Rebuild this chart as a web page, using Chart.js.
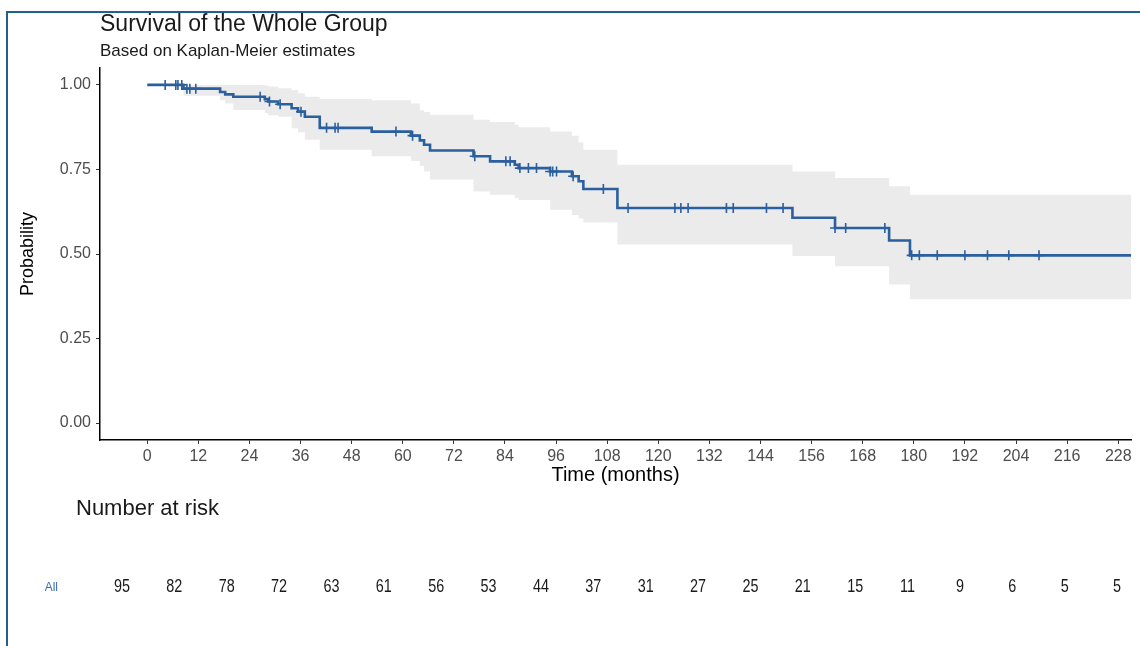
<!DOCTYPE html>
<html>
<head>
<meta charset="utf-8">
<script src="https://cdn.jsdelivr.net/npm/chart.js@4.4.1/dist/chart.umd.min.js"></script>
<style>
  html, body { margin: 0; padding: 0; background: #fff; }
  #wrap { position: relative; width: 1140px; height: 646px; overflow: hidden; }
  #km { position: absolute; left: 0; top: 0; }
  #risk { position: absolute; left: 0; top: 495px; }
  #frame { position: absolute; left: 6px; top: 11px; right: -10px; bottom: -10px;
           border-left: 2px solid #22618f; border-top: 2px solid #22618f; pointer-events: none; }
</style>
</head>
<body>
<div id="wrap">
  <canvas id="km" width="1140" height="495"></canvas>
  <canvas id="risk" width="1140" height="151"></canvas>
  <div id="frame"></div>
</div>
<script>
// Kaplan-Meier step curve (time in months, survival probability)
const kmTime = [0, 8.5, 17.1, 18.3, 20.2, 27.6, 28.4, 30.7, 33.9, 35.4, 37.0, 40.5, 52.7, 61.9, 64.0, 65.0, 66.4,
                76.6, 80.5, 86.3, 87.2, 94.6, 99.7, 101.3, 102.4, 110.4, 151.5, 161.5, 174.2, 179.1, 236];
const kmSurv = [1.0, 0.989, 0.979, 0.972, 0.965, 0.958, 0.951, 0.943, 0.931, 0.921, 0.906, 0.873, 0.862, 0.850, 0.836, 0.823, 0.806,
                0.789, 0.774, 0.764, 0.754, 0.744, 0.730, 0.715, 0.692, 0.636, 0.607, 0.577, 0.540, 0.496, 0.496];
// confidence band at the same times
const ciUpper = [1.0, 1.0, 1.0, 1.0, 1.0, 0.998, 0.995, 0.990, 0.985, 0.975, 0.965, 0.958, 0.955, 0.945, 0.925, 0.920, 0.912,
                 0.897, 0.890, 0.882, 0.875, 0.862, 0.850, 0.830, 0.808, 0.764, 0.744, 0.725, 0.700, 0.675, 0.675];
const ciLower = [1.0, 0.968, 0.955, 0.945, 0.926, 0.917, 0.910, 0.906, 0.872, 0.860, 0.838, 0.808, 0.789, 0.775, 0.760, 0.744, 0.720,
                 0.685, 0.675, 0.666, 0.660, 0.631, 0.615, 0.605, 0.593, 0.528, 0.494, 0.464, 0.410, 0.366, 0.366];
// censored observations
const censorTimes = [4.2, 6.7, 7.2, 8.1, 9.3, 10.0, 11.4, 26.5, 28.7, 31.2, 36.1, 42.1, 44.1, 44.8, 58.4, 62.3, 76.9,
                     84.2, 85.2, 87.5, 89.5, 91.4, 94.6, 95.2, 96.1, 100.0, 107.1, 112.9, 123.9, 125.3, 127.0, 136.0,
                     137.6, 145.4, 149.3, 161.5, 164.0, 173.2, 179.5, 181.3, 185.5, 192.0, 197.3, 202.3, 209.4];

const xTicks = [0, 12, 24, 36, 48, 60, 72, 84, 96, 108, 120, 132, 144, 156, 168, 180, 192, 204, 216, 228];
const yTicks = [0, 0.25, 0.5, 0.75, 1.0];

// number at risk table
const riskTimes = [0, 12, 24, 36, 48, 60, 72, 84, 96, 108, 120, 132, 144, 156, 168, 180, 192, 204, 216, 228];
const riskCounts = [95, 82, 78, 72, 63, 61, 56, 53, 44, 37, 31, 27, 25, 21, 15, 11, 9, 6, 5, 5];
const riskGroup = ['All'];

const F = "'Liberation Sans', Arial, sans-serif";
const blue = '#2b5f9e';

function survAt(t) {
  let s = kmSurv[0];
  for (let i = 0; i < kmTime.length; i++) {
    if (kmTime[i] <= t) s = kmSurv[i];
  }
  return s;
}

const pts = (xs, ys) => xs.map((x, i) => ({ x: x, y: ys[i] }));

new Chart(document.getElementById('km'), {
  type: 'line',
  data: {
    datasets: [
      {
        label: 'censor',
        data: censorTimes.map(t => ({ x: t, y: survAt(t) })),
        showLine: false,
        pointStyle: 'cross',
        pointRadius: 5,
        pointBorderWidth: 1.6,
        pointBorderColor: blue,
        borderColor: blue
      },
      {
        label: 'All',
        data: pts(kmTime, kmSurv),
        stepped: true,
        borderColor: blue,
        borderWidth: 2.6,
        pointRadius: 0,
        fill: false
      },
      {
        label: 'upper',
        data: pts(kmTime, ciUpper),
        stepped: true,
        borderColor: 'rgba(0,0,0,0)',
        borderWidth: 0,
        pointRadius: 0,
        fill: '+1',
        backgroundColor: '#ebebeb'
      },
      {
        label: 'lower',
        data: pts(kmTime, ciLower),
        stepped: true,
        borderColor: 'rgba(0,0,0,0)',
        borderWidth: 0,
        pointRadius: 0,
        fill: false
      }
    ]
  },
  options: {
    responsive: false,
    animation: false,
    layout: { padding: { left: 0, right: 9, top: 0, bottom: 0 } },
    plugins: {
      legend: { display: false },
      tooltip: { enabled: false },
      title: {
        display: true, text: 'Survival of the Whole Group', align: 'start', fullSize: false,
        color: '#1a1a1a', font: { family: F, size: 23, weight: 'normal' }, padding: { top: 11, bottom: 0 }
      },
      subtitle: {
        display: true, text: 'Based on Kaplan-Meier estimates', align: 'start', fullSize: false,
        color: '#1a1a1a', font: { family: F, size: 17, weight: 'normal' }, padding: { top: 2.2, bottom: 6.8 }
      }
    },
    scales: {
      x: {
        type: 'linear', min: -11.1, max: 231,
        afterBuildTicks: s => { s.ticks = xTicks.map(v => ({ value: v })); },
        afterFit: s => { s.height = 55; },
        ticks: { color: '#4d4d4d', font: { family: F, size: 16 }, padding: 3, maxRotation: 0, autoSkip: false },
        grid: { drawOnChartArea: false, drawTicks: true, tickLength: 4, color: '#333' },
        border: { display: true, color: '#000', width: 1.5 },
        title: { display: true, text: 'Time (months)', color: '#000', font: { family: F, size: 20 }, padding: { top: 0, bottom: 8 } }
      },
      y: {
        type: 'linear', min: -0.05, max: 1.05,
        afterBuildTicks: s => { s.ticks = yTicks.map(v => ({ value: v })); },
        afterFit: s => { s.width = 100; },
        ticks: { color: '#4d4d4d', font: { family: F, size: 16 }, padding: 5, callback: v => v.toFixed(2) },
        grid: { drawOnChartArea: false, drawTicks: true, tickLength: 4, color: '#333' },
        border: { display: true, color: '#000', width: 1.5 },
        title: { display: true, text: 'Probability', color: '#000', font: { family: F, size: 18 }, padding: { top: 17, bottom: 0 } }
      }
    }
  }
});

// draws the at-risk counts in the row of the group, through the chart's scales
const riskText = {
  id: 'riskText',
  afterDatasetsDraw(chart) {
    const { ctx, scales: { x, y } } = chart;
    const yy = y.getPixelForTick(0);
    riskTimes.forEach((t, i) => {
      ctx.save();
      ctx.translate(x.getPixelForValue(t), yy);
      ctx.scale(0.8, 1);
      ctx.fillStyle = '#1a1a1a';
      ctx.font = '18px ' + F;
      ctx.textAlign = 'center';
      ctx.textBaseline = 'middle';
      ctx.fillText(String(riskCounts[i]), 0, 0);
      ctx.restore();
    });
  }
};

new Chart(document.getElementById('risk'), {
  type: 'line',
  data: {
    labels: riskGroup,
    datasets: [{ data: riskTimes.map(t => ({ x: t, y: 'All' })), showLine: false, pointRadius: 0 }]
  },
  options: {
    responsive: false,
    animation: false,
    layout: { padding: { left: 0, right: 0, top: 0, bottom: 44 } },
    plugins: {
      legend: { display: false },
      tooltip: { enabled: false },
      title: {
        display: true, text: 'Number at risk', align: 'start', fullSize: false,
        color: '#1a1a1a', font: { family: F, size: 22, weight: 'normal' }, padding: { top: 1, bottom: 50 }
      }
    },
    scales: {
      x: { type: 'linear', min: -10.54, max: 233.27, display: false },
      y: {
        type: 'category', labels: riskGroup, offset: true,
        afterFit: s => { s.width = 76; },
        ticks: { color: '#3a6db4', font: { family: F, size: 12 }, padding: 10 },
        grid: { display: false },
        border: { display: false }
      }
    }
  },
  plugins: [riskText]
});
</script>
</body>
</html>
